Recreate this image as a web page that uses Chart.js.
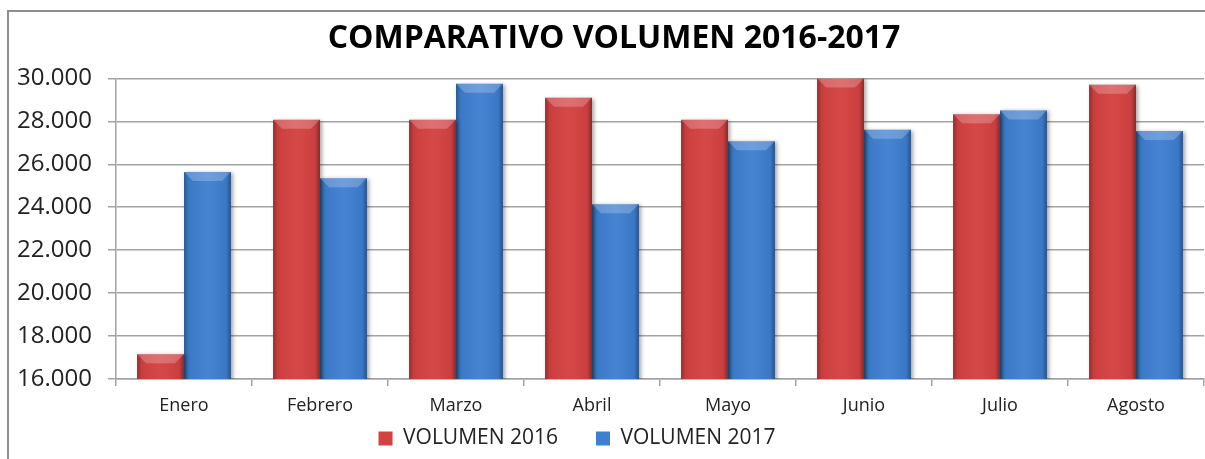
<!DOCTYPE html>
<html>
<head>
<meta charset="utf-8">
<script src="https://cdn.jsdelivr.net/npm/chart.js@4/dist/chart.umd.min.js"></script>
<style>
    html, body { margin: 0; padding: 0; background: #fff; overflow: hidden; }
    #frame {
        position: absolute; left: 7px; top: 10px; width: 1300px; height: 500px;
        border-left: 2px solid #8e8e8e; border-top: 2px solid #8e8e8e;
    }
    #wrap { position: absolute; left: 0; top: 0; width: 1205px; height: 459px; }
</style>
</head>
<body>
<div id="frame"></div>
<div id="wrap"><canvas id="volChart" width="1205" height="459"></canvas></div>
<script>
// data
const months = ["Enero", "Febrero", "Marzo", "Abril", "Mayo", "Junio", "Julio", "Agosto"];
const vol2016 = [17150, 28070, 28070, 29100, 28070, 30000, 28330, 29710];
const vol2017 = [25640, 25350, 29750, 24140, 27070, 27610, 28510, 27550];
const yTicks = [16000, 18000, 20000, 22000, 24000, 26000, 28000, 30000];

const RED = "#d44141";
const BLUE = "#3e7fd0";
const GRID = "#a3a3a3";

const fmt = v => String(v).replace(/\B(?=(\d{3})+(?!\d))/g, ".");

// excel-like bevel on the bars
const bevelPlugin = {
    id: "bevel",
    beforeDatasetsDraw(chart) {
        const ctx = chart.ctx;
        ctx.save();
        ctx.shadowColor = "rgba(0,0,0,0.35)";
        ctx.shadowBlur = 4;
        ctx.shadowOffsetX = 2;
        ctx.shadowOffsetY = 1;
    },
    afterDatasetsDraw(chart) {
        const ctx = chart.ctx;
        ctx.restore();
        const area = chart.chartArea;
        ctx.save();
        ctx.beginPath();
        ctx.rect(area.left, area.top - 1, area.right - area.left, area.bottom - area.top + 1);
        ctx.clip();
        chart.data.datasets.forEach((ds, di) => {
            chart.getDatasetMeta(di).data.forEach(bar => {
                const l = bar.x - bar.width / 2;
                const r = bar.x + bar.width / 2;
                const t = Math.max(bar.y, area.top);
                const b = bar.base;
                const h = b - t;
                const bv = Math.min(9, h / 2);

                const g = ctx.createLinearGradient(l, 0, r, 0);
                g.addColorStop(0, "rgba(0,0,0,0.30)");
                g.addColorStop(0.1, "rgba(0,0,0,0.05)");
                g.addColorStop(0.5, "rgba(255,255,255,0.04)");
                g.addColorStop(0.9, "rgba(0,0,0,0.06)");
                g.addColorStop(1, "rgba(0,0,0,0.35)");
                ctx.fillStyle = g;
                ctx.fillRect(l, t, r - l, h);

                // top bevel
                ctx.beginPath();
                ctx.moveTo(l, t);
                ctx.lineTo(r, t);
                ctx.lineTo(r - bv, t + bv);
                ctx.lineTo(l + bv, t + bv);
                ctx.closePath();
                ctx.fillStyle = "rgba(255,255,255,0.22)";
                ctx.fill();

                // bottom bevel
                ctx.beginPath();
                ctx.moveTo(l, b);
                ctx.lineTo(r, b);
                ctx.lineTo(r - 4, b - 4);
                ctx.lineTo(l + 4, b - 4);
                ctx.closePath();
                ctx.fillStyle = "rgba(0,0,0,0.15)";
                ctx.fill();
            });
        });
        ctx.restore();
    }
};

// legend sits a bit left of centre in the original; labels need room past their boxes
const layoutTweaks = {
    id: "layoutTweaks",
    afterLayout(chart) {
        chart.legend.left -= 37;
        chart.legend.right -= 37;
        chart.scales.y.left = 0;
        chart.scales.x.bottom = chart.scales.x.top + 45;
    }
};

new Chart(document.getElementById("volChart"), {
    type: "bar",
    data: {
        labels: months,
        datasets: [
            { label: "VOLUMEN 2016", data: vol2016, backgroundColor: RED, borderWidth: 0 },
            { label: "VOLUMEN 2017", data: vol2017, backgroundColor: BLUE, borderWidth: 0 }
        ]
    },
    options: {
        responsive: false,
        animation: false,
        layout: { padding: { left: 24, right: 1, top: 0, bottom: 0 } },
        datasets: { bar: { categoryPercentage: 0.69, barPercentage: 1 } },
        plugins: {
            title: {
                display: true,
                text: "COMPARATIVO VOLUMEN 2016-2017",
                color: "#000",
                font: { family: "Open Sans", size: 32, weight: "bold", lineHeight: 1.2 },
                padding: { top: 20, bottom: 20 }
            },
            legend: {
                position: "bottom",
                labels: {
                    color: "#222",
                    font: { family: "Open Sans", size: 21 },
                    boxWidth: 14,
                    boxHeight: 14,
                    padding: 38
                }
            },
            tooltip: { enabled: false }
        },
        scales: {
            x: {
                grid: { drawOnChartArea: false, drawTicks: true, tickLength: 7, color: GRID, lineWidth: 1.5 },
                border: { color: GRID, width: 1.5 },
                ticks: { color: "#222", font: { family: "Open Sans", size: 18 }, padding: 9 },
                afterFit(scale) { scale.height = 11; }
            },
            y: {
                min: 16000,
                max: 30000,
                afterBuildTicks(scale) { scale.ticks = yTicks.map(v => ({ value: v })); },
                grid: { color: GRID, lineWidth: 1.5, tickLength: 8 },
                border: { color: GRID, width: 1.5 },
                ticks: {
                    color: "#222",
                    font: { family: "Open Sans", size: 24 },
                    padding: 16,
                    callback: v => fmt(v)
                },
                afterFit(scale) { scale.width = 92; }
            }
        }
    },
    plugins: [bevelPlugin, layoutTweaks]
});
</script>
</body>
</html>
